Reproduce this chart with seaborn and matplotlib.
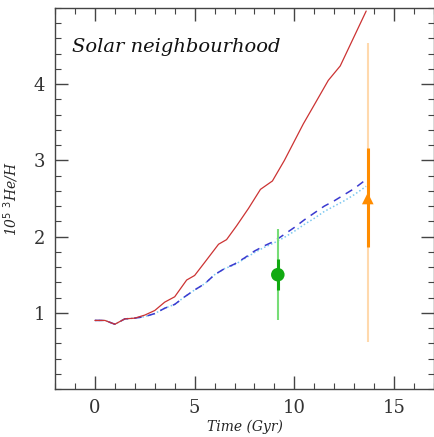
import numpy as np
import pandas as pd
import matplotlib
matplotlib.use("Agg")
import matplotlib.pyplot as plt
from matplotlib.ticker import MultipleLocator
import seaborn as sns

# Model tracks: time (Gyr) vs 10^5 3He/H
time_red = [0.0, 0.5, 1.0, 1.5, 2.0, 2.5, 3.0, 3.5, 4.0, 4.6, 5.0, 5.5, 6.2, 6.6,
            7.1, 7.7, 8.3, 8.9, 9.5, 10.45, 11.0, 11.7, 12.3, 13.6]
he3_red = [0.90, 0.90, 0.85, 0.92, 0.93, 0.97, 1.03, 1.14, 1.21, 1.43, 1.49, 1.66, 1.90, 1.96,
           2.14, 2.37, 2.62, 2.73, 3.00, 3.48, 3.73, 4.05, 4.24, 4.96]

time_blue = [0.0, 0.5, 1.0, 1.5, 2.0, 2.5, 3.0, 3.5, 4.0, 4.5, 5.0, 5.5, 6.0, 6.5, 7.0,
             7.5, 8.0, 8.5, 9.0, 9.5, 10.0, 10.5, 11.0, 11.5, 12.0, 12.5, 13.0, 13.6]
he3_dashed = [0.90, 0.90, 0.85, 0.92, 0.93, 0.95, 0.99, 1.06, 1.11, 1.21, 1.30, 1.38, 1.50,
              1.58, 1.64, 1.72, 1.81, 1.88, 1.94, 2.03, 2.12, 2.22, 2.31, 2.40, 2.47, 2.55,
              2.63, 2.75]
he3_dotted = [0.90, 0.90, 0.85, 0.92, 0.93, 0.95, 0.99, 1.06, 1.11, 1.21, 1.30, 1.38, 1.50,
              1.58, 1.63, 1.71, 1.79, 1.86, 1.92, 1.99, 2.07, 2.16, 2.24, 2.33, 2.40, 2.47,
              2.55, 2.66]

# Observational constraints (value, inner range, outer range)
obs_time = [9.17, 13.68]
obs_val = [1.50, 2.50]
obs_inner_lo = [1.30, 1.87]
obs_inner_hi = [1.70, 3.16]
obs_outer_lo = [0.90, 0.62]
obs_outer_hi = [2.10, 4.54]

sns.set_style("ticks")
plt.rcParams["font.family"] = ["DejaVu Serif"]

fig = plt.figure(figsize=(4.35, 4.37), dpi=100)
ax = fig.add_axes([55 / 435, 1 - 389 / 437, 379 / 435, 381 / 437])

df_red = pd.DataFrame({"t": time_red, "y": he3_red})
df_blue = pd.DataFrame({"t": time_blue, "dash": he3_dashed, "dot": he3_dotted})

sns.lineplot(data=df_blue, x="t", y="dot", ax=ax, color="#7cc8f0", lw=1.1,
             linestyle=(0, (1, 1.5)), estimator=None)
sns.lineplot(data=df_blue, x="t", y="dash", ax=ax, color="#3a3ad0", lw=1.1,
             linestyle=(0, (5, 4)), estimator=None)
sns.lineplot(data=df_red, x="t", y="y", ax=ax, color="#cc3333", lw=0.9, estimator=None)

# Error bars: outer (light) and inner (dark)
light = ["#77dd77", "#ffd9ad"]
dark = ["#11aa11", "#ff8c00"]
for i in range(2):
    ax.vlines(obs_time[i], obs_outer_lo[i], obs_outer_hi[i], color=light[i], lw=1.5, zorder=3)
    ax.vlines(obs_time[i], obs_inner_lo[i], obs_inner_hi[i], color=dark[i], lw=2.2, zorder=4)
sns.scatterplot(x=[obs_time[0]], y=[obs_val[0]], ax=ax, marker="o", s=95,
                color="#11aa11", edgecolor="none", zorder=5)
sns.scatterplot(x=[obs_time[1]], y=[obs_val[1]], ax=ax, marker="^", s=70,
                color="#ff8c00", edgecolor="none", zorder=5)

ax.set_xlim(-2, 17)
ax.set_ylim(0, 5)
ax.xaxis.set_major_locator(MultipleLocator(5))
ax.xaxis.set_minor_locator(MultipleLocator(1))
ax.yaxis.set_major_locator(MultipleLocator(1))
ax.yaxis.set_minor_locator(MultipleLocator(0.2))
ax.set_xticks([0, 5, 10, 15])
ax.set_yticks([1, 2, 3, 4])
ax.tick_params(which="both", direction="in", top=True, right=True, colors="#444444",
               labelcolor="#333333", labelsize=13)
ax.tick_params(which="major", length=9.5, width=1.0, pad=7)
ax.tick_params(which="minor", length=4.5, width=0.8)
for s in ax.spines.values():
    s.set_color("#444444")
    s.set_linewidth(1.0)

ax.set_xlabel("Time (Gyr)", fontstyle="italic", fontsize=10, labelpad=2)
ax.set_ylabel(r"10$^5$ $^3$He/H", fontstyle="italic", fontsize=10, labelpad=9)
ax.text(-1.15, 4.49, "Solar neighbourhood", fontstyle="italic", fontsize=14,
        va="center", ha="left", color="#111111")

fig.savefig("out.png", dpi=100)
